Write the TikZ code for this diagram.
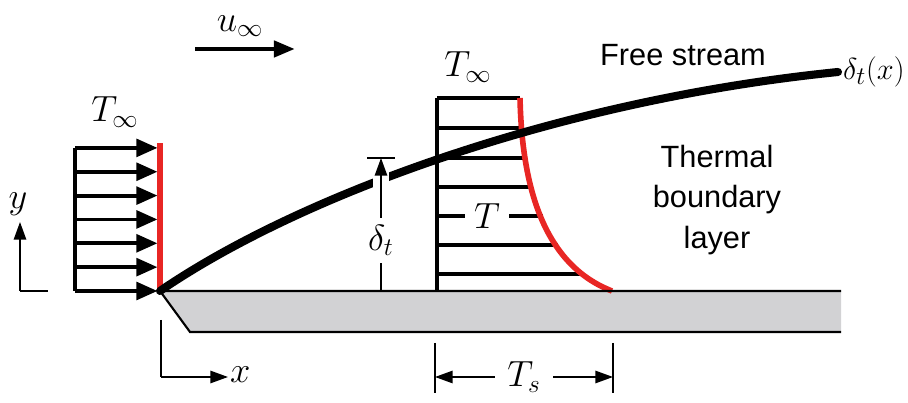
\documentclass[tikz,border=0pt]{standalone}
\usepackage{fontspec}
\setsansfont{Liberation Sans}
\usepackage{tikz}
\usetikzlibrary{arrows.meta, positioning, calc}

\definecolor{tempred}{RGB}{232,38,36}
\definecolor{plategray}{RGB}{210,210,212}

\begin{document}
\begin{tikzpicture}[
    profile/.style={line width=2.2pt},
    flowarrow/.style={line width=2.2pt, -{Triangle[length=12pt, width=10pt]}},
    edgecurve/.style={line width=4.6pt, line cap=round},
    redline/.style={line width=3.2pt, draw=tempred},
    dimline/.style={line width=1pt},
    dimarrow/.style={line width=1pt, -{Triangle[length=10pt, width=7pt]}},
    dimboth/.style={line width=1pt, {Triangle[length=10pt, width=7pt]}-{Triangle[length=10pt, width=7pt]}},
    mathlabel/.style={font=\fontsize{21}{25}\selectfont, inner sep=1pt},
    textlabel/.style={font=\sffamily\fontsize{17.5}{23}\selectfont, align=center}
  ]
  \useasboundingbox (0,0) rectangle (18.16,8.06);

  % plate
  \coordinate (le) at (3.2,2.24);
  \coordinate (plateend) at (16.82,2.24);
  \coordinate (platebl) at (3.8,1.42);
  \coordinate (platebr) at (16.82,1.42);
  \fill[plategray] (le) -- (plateend) -- (platebr) -- (platebl) -- cycle;

  % uniform profile at the leading edge
  \coordinate (inbase) at (1.5,2.24);
  \coordinate (intop) at (1.5,5.1);
  \draw[profile] (inbase) -- (intop);
  \foreach \i in {0,...,6}
    \draw[flowarrow] ($(inbase)+(0,\i*0.477)$) -- ($(le)+(-0.05,\i*0.477)$);
  \coordinate (redtop) at (3.2,5.2);
  \draw[redline] (le) -- (redtop);
  \node[mathlabel] (tinfleft) at (2.3,5.82) {$T_\infty$};

  % temperature profile
  \coordinate (prbase) at (8.74,2.24);
  \coordinate (prtop) at (8.74,6.1);
  \draw[profile] (prbase) -- (prtop);
  \foreach \y/\xe in {6.1/10.4, 5.5/10.44, 4.9/10.5, 4.32/10.66, 3.74/10.86, 3.16/11.16, 2.58/11.66}
    \draw[profile] (8.74,\y) -- (\xe,\y);
  \node[mathlabel, fill=white, inner xsep=5pt] (tlocal) at (9.74,3.74) {$T$};
  \node[mathlabel] (tinftop) at (9.36,6.72) {$T_\infty$};
  \coordinate (wall) at (12.24,2.24);
  \draw[redline] (10.4,6.1) .. controls (10.44,4.26) and (10.9,2.76) .. (wall);

  % edge of the thermal boundary layer
  \coordinate (curveend) at (16.76,6.62);
  \draw[edgecurve] (le) .. controls (6,4.16) and (11.2,6.06) .. (curveend);
  \node[mathlabel, anchor=west, font=\fontsize{19}{23}\selectfont] (deltax) at (16.82,6.62) {$\delta_t(x)$};

  % plate outline
  \draw[line width=1.2pt] (plateend) -- (le) -- (platebl) -- (platebr);

  % thickness delta_t
  \coordinate (dbase) at (7.62,2.24);
  \coordinate (dtop) at (7.62,4.9);
  \draw[white, line width=9pt] (7.62,4.25) -- (7.62,4.68);
  \draw[dimarrow] (dbase) -- node[mathlabel, fill=white, pos=0.38, inner ysep=4pt] (dlabel) {$\delta_t$} (dtop);
  \draw[dimline] ($(dtop)+(-0.28,0)$) -- ($(dtop)+(0.28,0)$);

  % free stream velocity
  \coordinate (ustart) at (3.9,7.08);
  \coordinate (uend) at (5.9,7.08);
  \draw[line width=2.8pt, -{Triangle[length=12pt, width=9pt]}] (ustart) -- (uend);
  \node[mathlabel] (uinf) at (4.8,7.54) {$u_\infty$};

  % coordinate axes
  \coordinate (yo) at (0.4,2.24);
  \draw[dimarrow] (yo) -- (0.4,3.62);
  \draw[dimline] (yo) -- (0.96,2.24);
  \node[mathlabel] (ylabel) at (0.36,3.98) {$y$};
  \coordinate (xo) at (3.22,0.52);
  \draw[dimline] (3.22,1.66) -- (xo);
  \draw[dimarrow] (xo) -- (4.56,0.52);
  \node[mathlabel, anchor=west] (xlabel) at (4.56,0.56) {$x$};

  % surface temperature
  \coordinate (tsl) at (8.7,0.52);
  \coordinate (tsr) at (12.26,0.52);
  \draw[dimline] (8.7,1.2) -- (8.7,0.2);
  \draw[dimline] (12.26,1.2) -- (12.26,0.2);
  \draw[dimboth] (tsl) -- node[mathlabel, fill=white, inner xsep=7pt] (tslabel) {$T_s$} (tsr);

  % region labels
  \node[textlabel] (freestream) at (13.66,6.96) {Free stream};
  \node[textlabel] (thermal) at (14.34,4.06) {Thermal\\boundary\\layer};
\end{tikzpicture}
\end{document}
